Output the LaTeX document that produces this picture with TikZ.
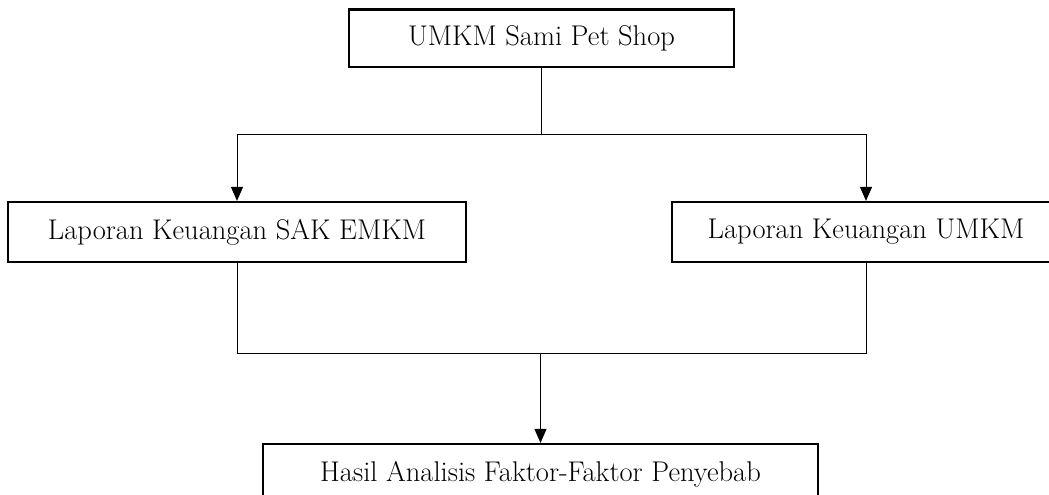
\documentclass[tikz,border=0pt]{standalone}
\usetikzlibrary{arrows.meta}
\tikzset{
  box/.style={draw, line width=2.2pt, rectangle, inner sep=0pt, font=\fontsize{28.5}{32}\selectfont, text=black},
  conn/.style={line width=1pt},
  arr/.style={line width=1pt, -{Triangle[length=14pt,width=12pt]}}
}
\begin{document}
\begin{tikzpicture}[x=1pt,y=-1pt]
\useasboundingbox (0,0) rectangle (1049,495);
\clip (0,0) rectangle (1049,495);
\fill[white] (0,0) rectangle (1049,495);
\node[box, minimum width=385pt, minimum height=57.5pt] (top) at (541.5,38.25) {UMKM Sami Pet Shop};
\node[box, minimum width=458pt, minimum height=60pt] (left) at (237,232) {Laporan Keuangan SAK EMKM};
\node[box, minimum width=388pt, minimum height=60pt] (right) at (866,232) {Laporan Keuangan UMKM};
\node[box, minimum width=555pt, minimum height=60pt] (bot) at (540.5,474) {Hasil Analisis Faktor-Faktor Penyebab};
\coordinate (j1) at (541.5,134);
\coordinate (j1l) at (237,134);
\coordinate (j1r) at (866,134);
\coordinate (j2l) at (237,353);
\coordinate (j2r) at (866,353);
\coordinate (j2) at (540.5,353);
\draw[conn] (top.south) -- (j1);
\draw[conn] (j1l) -- (j1r);
\draw[arr] (j1l) -- (left.north);
\draw[arr] (j1r) -- (right.north);
\draw[conn] (left.south) -- (j2l) -- (j2r) -- (right.south);
\draw[arr] (j2) -- (bot.north);
\end{tikzpicture}
\end{document}
